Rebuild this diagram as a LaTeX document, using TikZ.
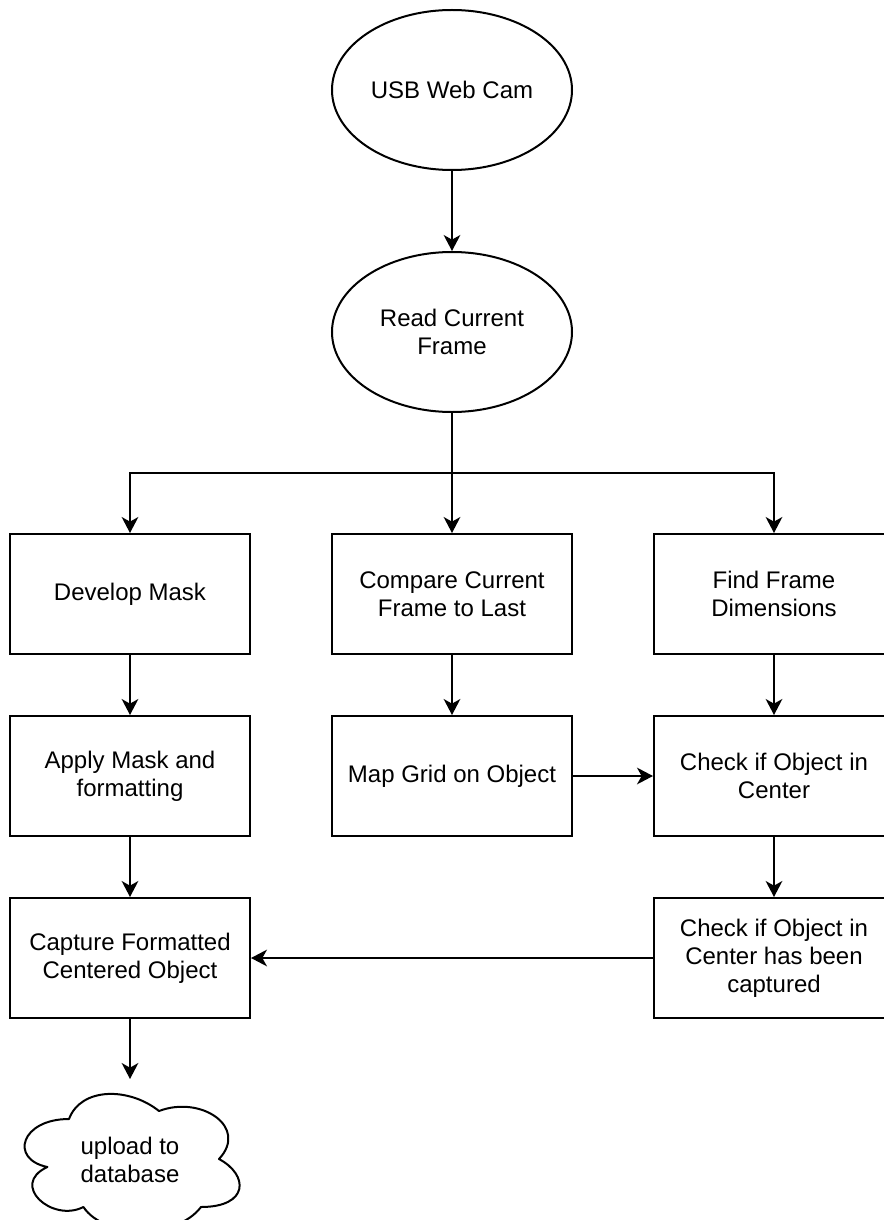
\documentclass[tikz,border=0pt]{standalone}
\usepackage{fontspec}
\setmainfont{Liberation Sans}
\usetikzlibrary{arrows.meta,shapes,positioning,calc}

\begin{document}
\begin{tikzpicture}[node distance=45pt and 60pt,>={Stealth[length=12pt,width=12.5pt,inset=3.5pt]},line width=1.5pt]

    % page frame, the webcam ellipse sits at the origin
    \useasboundingbox (-339pt,67.5pt) rectangle (323.25pt,-847.5pt);

    \tikzstyle{source}=[ellipse,draw,minimum width=180pt,minimum height=120pt,inner sep=0pt,align=center,font=\fontsize{18}{21}\selectfont]
    \tikzstyle{process}=[rectangle,draw,minimum width=180pt,minimum height=90pt,inner sep=0pt,align=center,font=\fontsize{18}{21}\selectfont]
    \tikzstyle{store}=[rectangle,minimum width=180pt,minimum height=120pt,inner sep=0pt,align=center,font=\fontsize{18}{21}\selectfont]

    \begin{scope}
        \node [source] (cam) {USB Web Cam};
        \node [source] (frame) [below=60pt of cam] {Read Current\\Frame};
        \node [process] (compare) [below=90pt of frame] {Compare Current\\Frame to Last};
        \node [process] (mask) [left=of compare] {Develop Mask};
        \node [process] (dims) [right=of compare] {Find Frame\\Dimensions};
        \node [process] (apply) [below=of mask] {Apply Mask and\\formatting};
        \node [process] (grid) [below=of compare] {Map Grid on Object};
        \node [process] (center) [below=of dims] {Check if Object in\\Center};
        \node [process] (capture) [below=of apply] {Capture Formatted\\Centered Object};
        \node [process] (captured) [below=of center] {Check if Object in\\Center has been\\captured};
        \node [store] (db) [below=of capture] {upload to\\database};
    \end{scope}

    % cloud outline round the upload node
    \draw [line join=round,shift={(db.north west)},x=180pt,y=-120pt]
        (0.25,0.25) .. controls (0.05,0.25) and (0,0.5) .. (0.16,0.55)
        .. controls (0,0.66) and (0.18,0.9) .. (0.31,0.8)
        .. controls (0.4,1) and (0.7,1) .. (0.8,0.8)
        .. controls (1,0.8) and (1,0.6) .. (0.875,0.5)
        .. controls (1,0.3) and (0.8,0.1) .. (0.625,0.2)
        .. controls (0.5,0.05) and (0.3,0.05) .. (0.25,0.25) -- cycle;

    \coordinate (split) at ($(frame.south)!0.5!(compare.north)$);
    \draw [->] (cam) -- (frame);
    \draw [->] (frame) -- (compare);
    \draw [->] (split) -| (mask.north);
    \draw [->] (split) -| (dims.north);
    \draw [->] (mask) -- (apply);
    \draw [->] (compare) -- (grid);
    \draw [->] (dims) -- (center);
    \draw [->] (apply) -- (capture);
    \draw [->] (grid) -- (center);
    \draw [->] (center) -- (captured);
    \draw [->] (captured) -- (capture);
    \draw [->] (capture) -- (db.north);
\end{tikzpicture}
\end{document}
